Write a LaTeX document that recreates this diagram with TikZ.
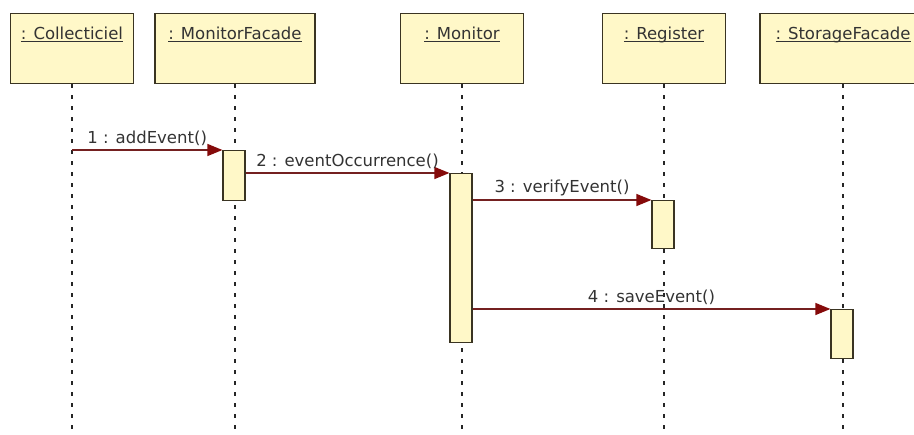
\documentclass[tikz,border=0pt]{standalone}
\usepackage{fontspec}
\setmainfont{DejaVu Sans}
\usepackage{tikz}
\usetikzlibrary{arrows.meta}

\definecolor{objfill}{HTML}{FFF8C8}
\definecolor{objline}{HTML}{3A3422}
\definecolor{msgline}{HTML}{742020}
\definecolor{msgtip}{HTML}{850A0A}
\newcommand\objname[1]{\underline{\smash{#1}}}

\begin{document}
\begin{tikzpicture}[x=1pt, y=-1pt,
  every node/.style={font=\fontsize{16.5}{18}\selectfont, text=black!80},
  object/.style={draw=objline, fill=objfill, line width=1.5pt, inner sep=0pt,
    text height=26pt, text depth=44pt},
  activation/.style={draw=objline, fill=objfill, line width=1.2pt, minimum width=22pt, inner sep=0pt},
  lifeline/.style={draw=black!85, line width=1.3pt, dash pattern=on 4pt off 7pt},
  message/.style={draw=msgline, line width=1.3pt,
    -{Triangle[length=15pt, width=12pt, color=msgtip]}}]
  \useasboundingbox (0,0) rectangle (914,435);
  \clip (0,0) rectangle (914,435);
  \coordinate (bottom) at (0,436);
  % objects
  \node[object, minimum width=123pt, anchor=north] (coll) at (72,13) {\objname{: Collecticiel}};
  \node[object, minimum width=160pt, anchor=north] (mfac) at (235,13) {\objname{: MonitorFacade}};
  \node[object, minimum width=123pt, anchor=north] (mon) at (462,13) {\objname{: Monitor}};
  \node[object, minimum width=123pt, anchor=north] (reg) at (664,13) {\objname{: Register}};
  \node[object, minimum width=166pt, anchor=north] (stor) at (843,13) {\objname{: StorageFacade}};
  % lifelines
  \foreach \obj in {coll, mfac, mon, reg, stor}
    \draw[lifeline] (\obj.south) -- (\obj.south |- bottom);
  % activations
  \node[activation, minimum height=50pt, anchor=north] (mfbar) at (234,150) {};
  \node[activation, minimum height=169pt, anchor=north] (monbar) at (461,173) {};
  \node[activation, minimum height=48pt, anchor=north] (regbar) at (663,200) {};
  \node[activation, minimum height=49pt, anchor=north] (storbar) at (842,309) {};
  % messages
  \draw[message] (coll.south |- mfbar.north) -- (mfbar.north west)
    node[midway, above] {1 : addEvent()};
  \draw[message] (mfbar.east |- monbar.north) -- (monbar.north west)
    node[midway, above] {2 : eventOccurrence()};
  \draw[message] (monbar.east |- regbar.north) -- (regbar.north west)
    node[midway, above] {3 : verifyEvent()};
  \draw[message] (monbar.east |- storbar.north) -- (storbar.north west)
    node[midway, above] {4 : saveEvent()};
\end{tikzpicture}
\end{document}
